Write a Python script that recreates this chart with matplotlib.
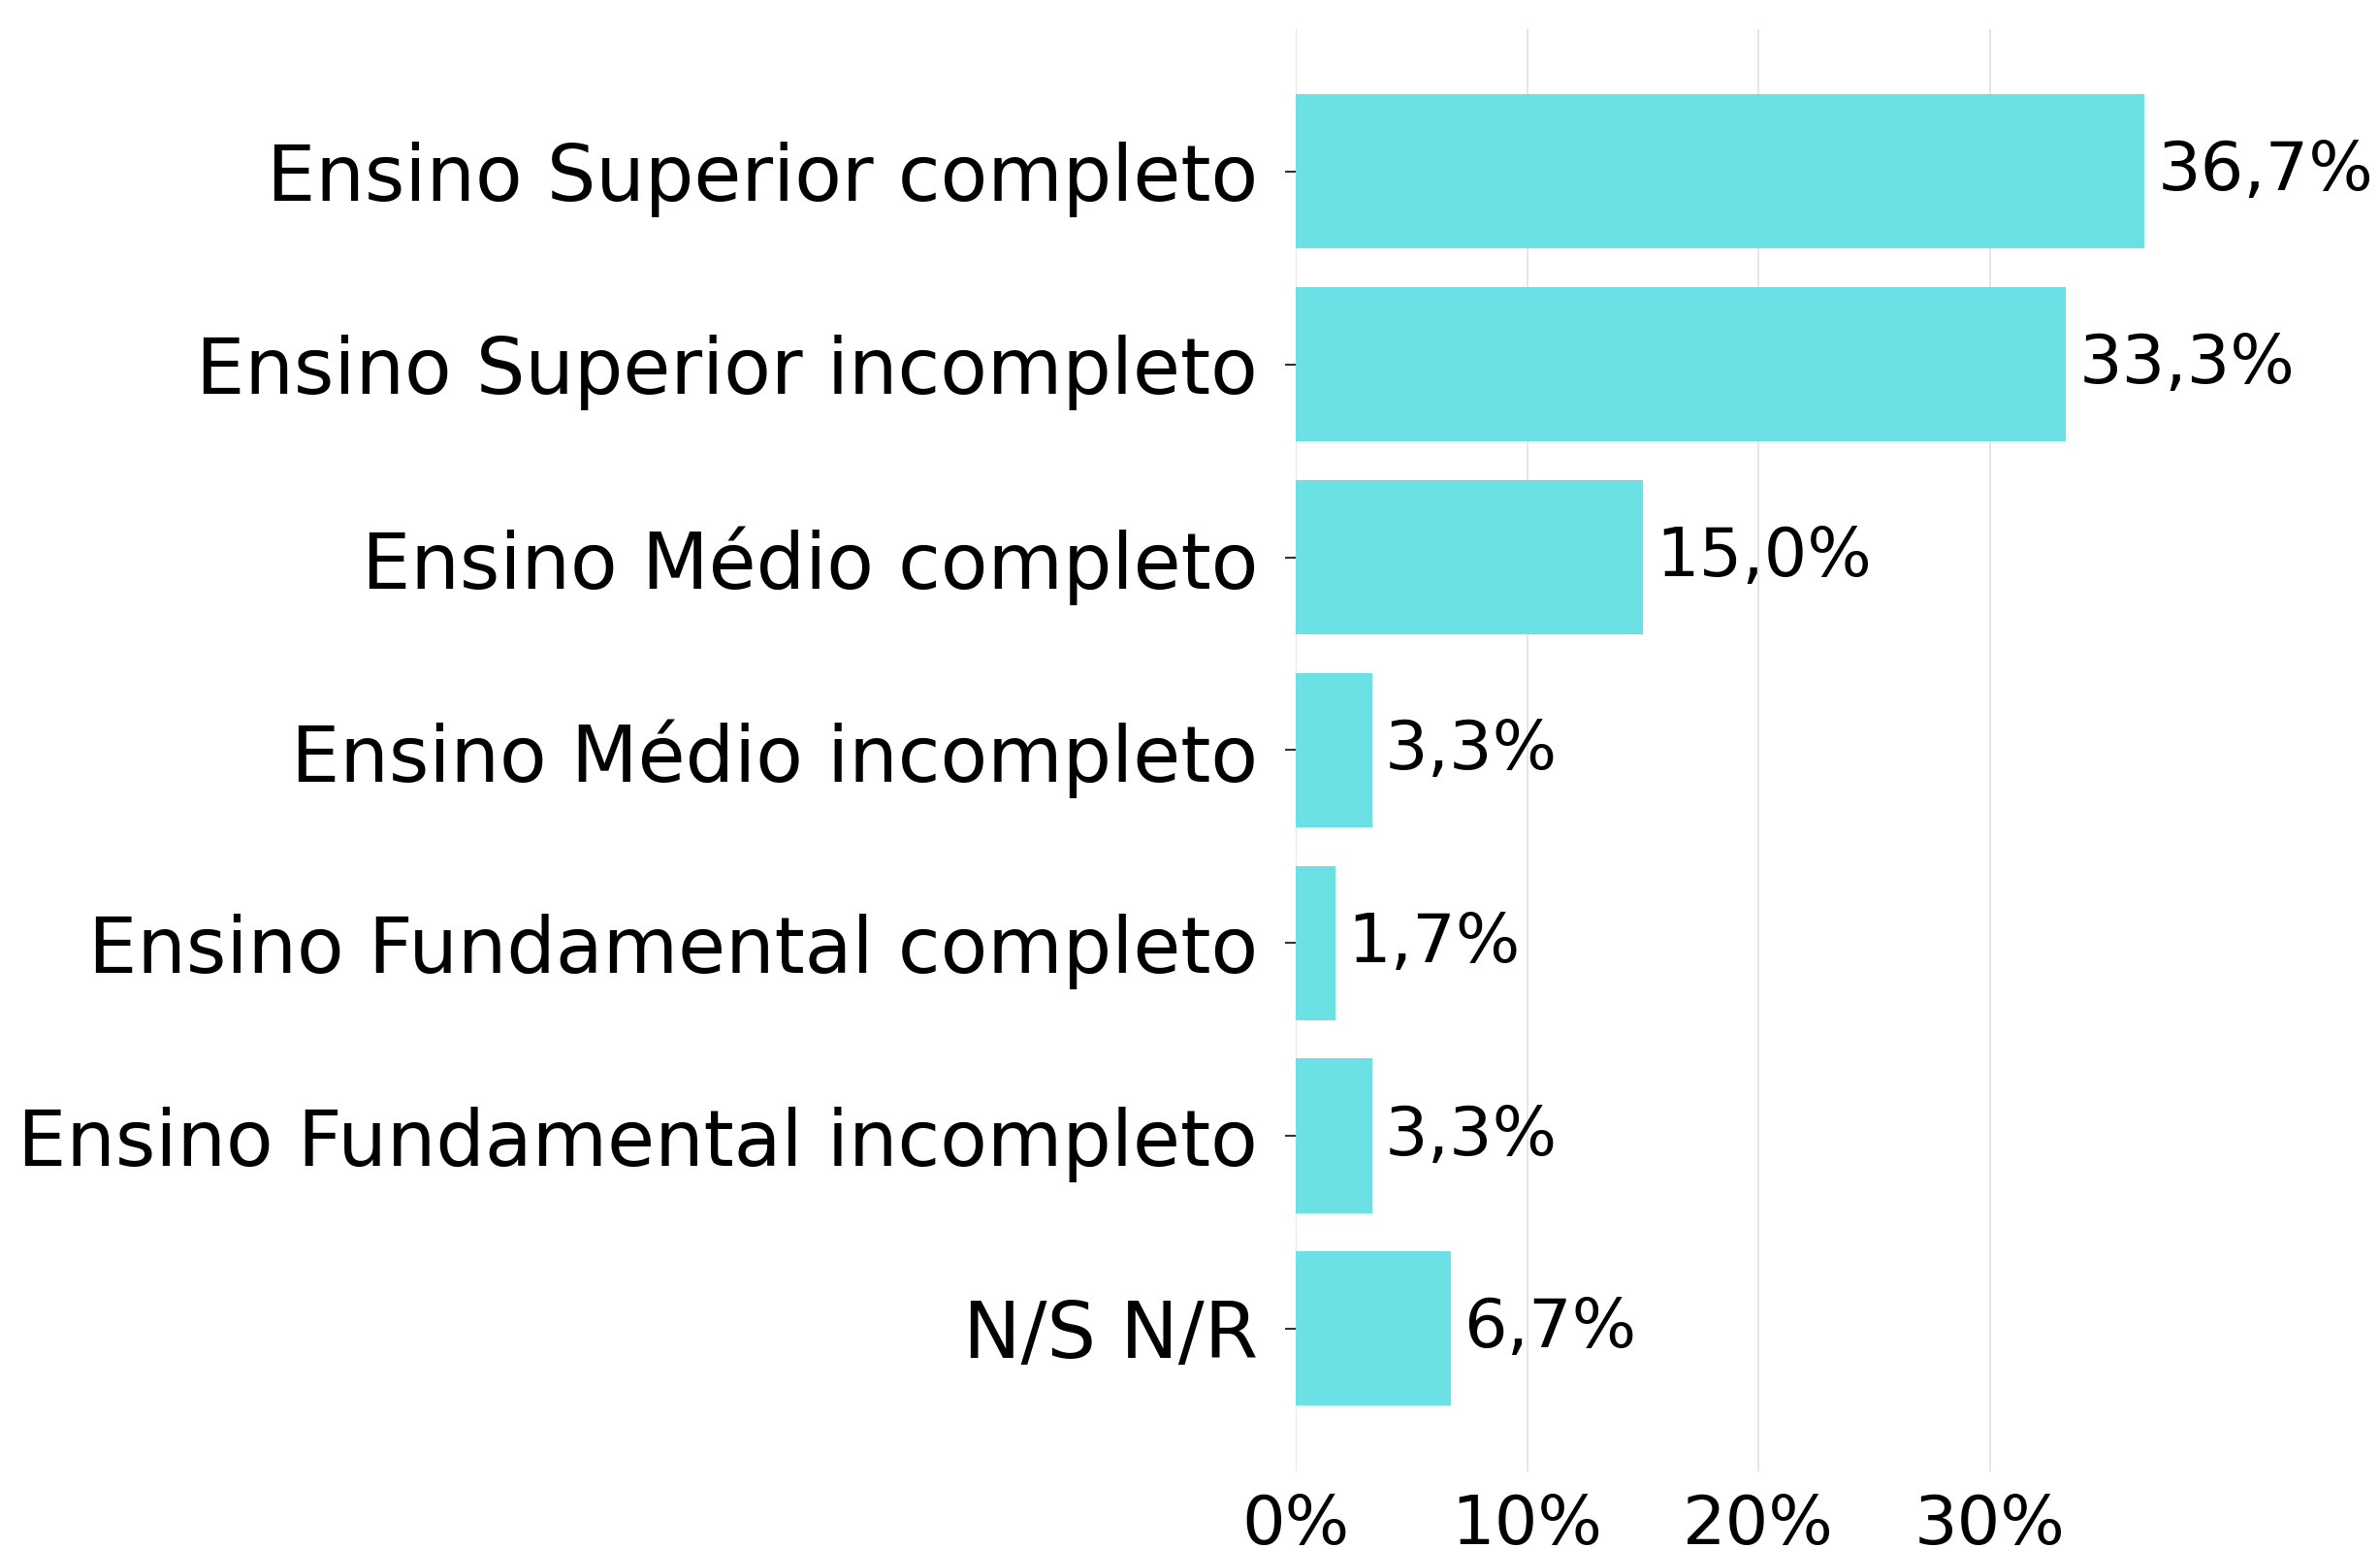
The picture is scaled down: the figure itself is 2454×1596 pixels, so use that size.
import matplotlib; matplotlib.use('agg')
import matplotlib.pyplot as plt
from matplotlib.ticker import FuncFormatter

categories = ["Ensino Superior completo", "Ensino Superior incompleto",
              "Ensino Médio completo", "Ensino Médio incompleto",
              "Ensino Fundamental completo", "Ensino Fundamental incompleto",
              "N/S N/R"]
values = [36.7, 33.3, 15.0, 3.3, 1.7, 3.3, 6.7]
xticks = [0, 10, 20, 30]

fig = plt.figure(figsize=(24.54, 15.96), dpi=100)
ax = fig.add_axes([0.5444, 0.0495, 0.919 - 0.5444, 0.9814 - 0.0495])

ax.barh(range(len(categories)), values, height=0.8, color="#6be1e6", zorder=2)
ax.invert_yaxis()
ax.set_yticks(range(len(categories)))
ax.set_yticklabels(categories)
ax.set_xticks(xticks)
ax.xaxis.set_major_formatter(FuncFormatter(lambda v, p: "%d%%" % v))
ax.set_xlim(0, max(values) * 1.05)

ax.grid(axis="x", color="#e6e6e6", linewidth=1.5, zorder=0)
for s in ax.spines.values():
    s.set_visible(False)
ax.tick_params(axis="y", labelsize=57.3, length=8, width=1.5, color="#333333", pad=20)
ax.tick_params(axis="x", labelsize=50.5, length=0, pad=16)

for i, v in enumerate(values):
    ax.text(v + 0.55, i, ("%.1f%%" % v).replace(".", ","), va="center",
            ha="left", fontsize=50.5)

fig.savefig("out.png", dpi=100)
